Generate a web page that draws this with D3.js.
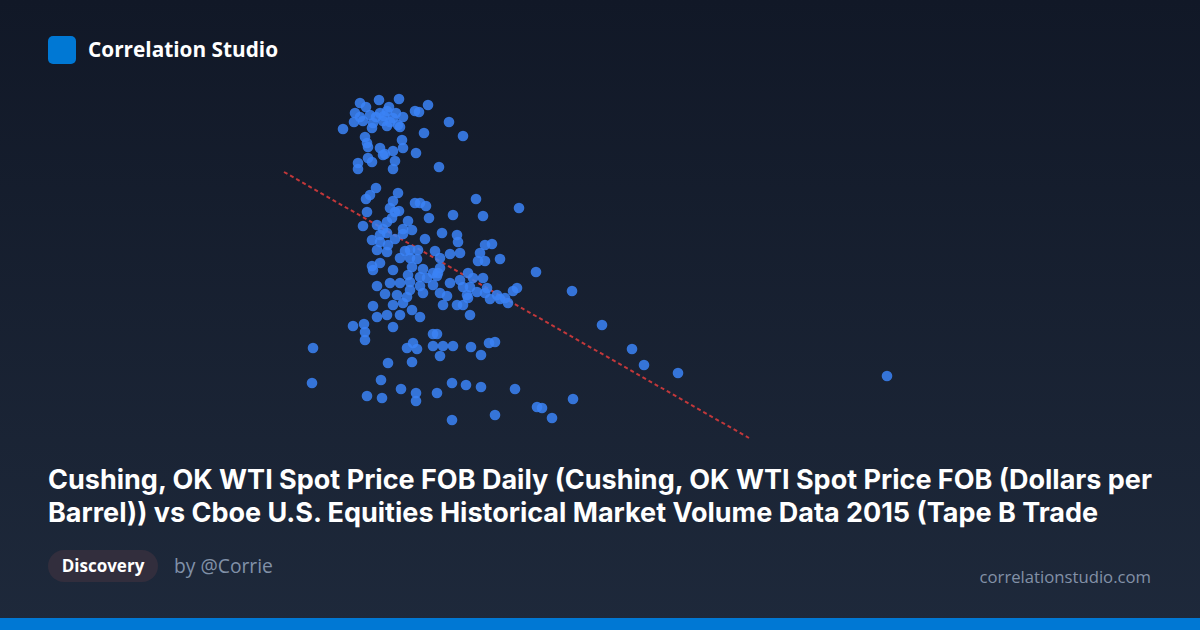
<!DOCTYPE html>
<html>
<head>
<meta charset="utf-8">
<script src="https://cdn.jsdelivr.net/npm/d3@7"></script>
<style>
  html, body { margin: 0; padding: 0; background: #111827; }
  svg { display: block; }
</style>
</head>
<body>
<svg id="chart" width="1200" height="630"></svg>
<script>
// Cboe Tape B trade volume (millions of shares, estimated)
const volume = [
  620,658,698,756,632,678,610,620,640,660,674,692,706,730,738,608,626,646,666,680,696,586,644,674,700,798,748,826,630,634,704,660,686,706,732,636,670,616,644,690,616,686,778,
  652,668,686,636,666,
  652,640,632,696,686,730,740,752,852,938,634,626,680,690,698,684,674,716,758,806,866,654,666,706,724,784,814,816,644,660,674,706,750,660,676,690,654,674,720,736,770,800,820,870,884,860,856,870,900,700,734,780,644,660,646,686,724,746,780,972,740,774,836,846,866,800,820,654,680,700,720,740,670,694,720,746,780,794,834,854,874,894,934,926,
  710,720,766,716,754,766,706,686,646,724,674,700,654,740,776,826,840,870,910,916,786,814,826,840,714,836,880,900,1044,
  606,628,630,630,686,766,774,526,714,726,734,766,786,806,842,780,862,878,890,676,724,1104,524,662,702,732,732,774,804,832,862,634,664,930,804,890,974,984,1004,1046,1164,1188,1256,1674
];
// Cushing, OK WTI spot price (USD per barrel, estimated)
const price = [
  62.7,63.0,63.1,62.5,62.3,62.3,61.7,61.3,61.5,61.7,61.9,61.7,61.3,61.9,61.8,60.8,60.9,60.7,60.9,60.8,60.5,60.1,60.2,60.4,60.3,60.8,59.7,59.4,59.3,58.7,59.0,58.2,57.9,58.2,57.7,57.2,57.6,56.7,56.8,56.9,56.1,56.1,56.3,
  61.3,61.4,61.2,58.3,57.5,
  54.2,53.5,53.1,53.7,52.9,52.7,52.7,52.4,53.1,52.2,51.8,50.4,52.2,51.8,51.9,51.2,50.8,50.9,51.2,51.5,51.4,50.5,50.1,50.1,50.0,49.7,49.5,48.8,49.0,49.5,49.7,49.6,49.1,48.8,48.5,49.1,48.0,47.8,48.0,48.0,47.9,47.6,47.7,48.5,48.6,47.7,46.9,46.9,47.1,47.2,47.1,47.2,46.4,46.7,46.0,46.0,46.3,46.1,46.2,45.8,45.3,45.4,45.7,45.2,45.2,44.7,45.0,44.4,44.7,44.7,44.8,44.4,43.6,43.5,44.0,43.7,43.7,43.4,43.5,43.8,44.2,43.5,44.2,43.9,
  47.9,47.2,45.7,45.5,45.2,44.5,42.7,42.5,42.4,42.0,41.5,41.5,41.3,41.3,45.7,44.3,44.3,43.7,43.2,42.7,42.5,42.5,42.5,41.5,43.3,43.2,43.1,43.1,43.9,
  40.4,40.6,39.8,39.0,40.3,39.6,39.6,38.2,38.2,38.7,38.1,38.4,38.4,38.4,38.3,37.4,37.5,38.7,38.8,36.7,36.8,40.5,34.7,35.0,34.1,33.7,32.9,33.7,34.7,34.5,34.3,33.4,33.2,34.1,31.0,31.5,32.3,32.2,31.2,33.1,38.1,36.5,35.7,35.4
];
// Fitted trend line end points
const trendVolume = [468, 1398];
const trendPrice = [55.8, 29.2];

const titleLines = [
  "Cushing, OK WTI Spot Price FOB Daily (Cushing, OK WTI Spot Price FOB (Dollars per",
  "Barrel)) vs Cboe U.S. Equities Historical Market Volume Data 2015 (Tape B Trade"
];
const brand = "Correlation Studio";
const badgeLabel = "Discovery";
const author = "by @Corrie";
const site = "correlationstudio.com";

const svg = d3.select("#chart");
const W = 1200, H = 630;
const font = "'Open Sans', 'Noto Sans', sans-serif";
const titleFont = "Inter, 'Open Sans', sans-serif";

// background gradient
const defs = svg.append("defs");
const grad = defs.append("linearGradient").attr("id", "bg").attr("x1", 0).attr("y1", 0).attr("x2", 0).attr("y2", 1);
grad.append("stop").attr("offset", "0%").attr("stop-color", "#111827");
grad.append("stop").attr("offset", "100%").attr("stop-color", "#1e293b");
svg.append("rect").attr("width", W).attr("height", H).attr("fill", "url(#bg)");

// header
svg.append("rect").attr("x", 48).attr("y", 36).attr("width", 28).attr("height", 28).attr("rx", 5).attr("fill", "#0078d4");
svg.append("text").attr("x", 88).attr("y", 57).text(brand)
  .attr("font-family", font).attr("font-weight", 700).attr("font-size", 20.8).attr("fill", "#ffffff");

// scales
const x = d3.scaleLinear().domain([500, 1700]).range([300, 900]);
const y = d3.scaleLinear().domain([30, 63]).range([430, 100]);

const data = volume.map((v, i) => ({ v, p: price[i] }));

// trend line
const line = d3.line().x(d => x(d[0])).y(d => y(d[1]));
svg.append("path")
  .datum(trendVolume.map((v, i) => [v, trendPrice[i]]))
  .attr("d", line)
  .attr("fill", "none")
  .attr("stroke", "#e03c3c")
  .attr("stroke-opacity", 0.85)
  .attr("stroke-width", 2)
  .attr("stroke-dasharray", "4,3");

// points
svg.append("g").selectAll("circle").data(data).join("circle")
  .attr("cx", d => x(d.v))
  .attr("cy", d => y(d.p))
  .attr("r", 5.3)
  .attr("fill", "#3b82f6")
  .attr("fill-opacity", 0.85);

// title
svg.append("g").selectAll("text").data(titleLines).join("text")
  .attr("x", 48)
  .attr("y", (d, i) => 489 + i * 33)
  .text(d => d)
  .attr("font-family", titleFont).attr("font-weight", 700).attr("font-size", 27).attr("fill", "#ffffff");

// badge
svg.append("rect").attr("x", 48).attr("y", 550).attr("width", 110).attr("height", 32).attr("rx", 16).attr("fill", "#322e3d");
svg.append("text").attr("x", 103).attr("y", 572).attr("text-anchor", "middle").text(badgeLabel)
  .attr("font-family", font).attr("font-weight", 700).attr("font-size", 17).attr("fill", "#ffffff");
svg.append("text").attr("x", 174).attr("y", 573).text(author)
  .attr("font-family", font).attr("font-size", 19.3).attr("fill", "#8191a8");
svg.append("text").attr("x", 1151).attr("y", 583).attr("text-anchor", "end").text(site)
  .attr("font-family", font).attr("font-size", 16.7).attr("fill", "#8391a7");

// bottom bar
svg.append("rect").attr("x", 0).attr("y", 618).attr("width", W).attr("height", 12).attr("fill", "#0078d4");
</script>
</body>
</html>
